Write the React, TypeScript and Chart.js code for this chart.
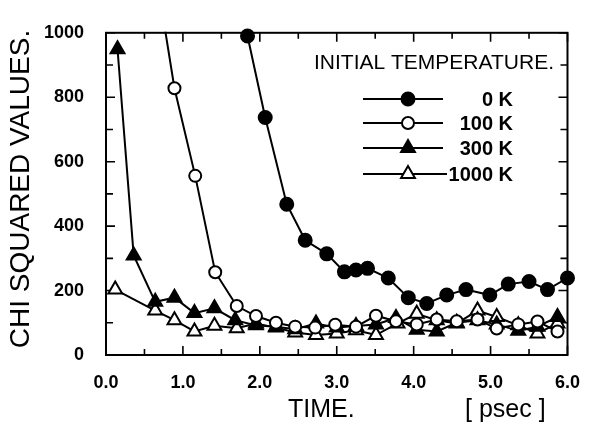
import React, { useEffect, useRef } from "react";
import { Chart, registerables } from "chart.js";

Chart.register(...registerables);

// ---- data ----
const times0K = [1.84, 2.07, 2.35, 2.59, 2.87, 3.1, 3.25, 3.4, 3.67, 3.93, 4.17, 4.43, 4.68, 4.99, 5.23, 5.5, 5.74, 6.0];
const chi0K = [990, 737, 468, 356, 314, 258, 264, 269, 239, 178, 160, 186, 203, 186, 220, 228, 203, 239];

const times100K = [0.64, 0.89, 1.16, 1.42, 1.7, 1.95, 2.21, 2.46, 2.72, 2.98, 3.25, 3.51, 3.77, 4.04, 4.3, 4.56, 4.83, 5.08, 5.36, 5.61, 5.87];
const chi100K = [1200, 828, 556, 257, 152, 121, 100, 88, 85, 94, 88, 122, 105, 95, 110, 105, 110, 82, 95, 104, 73];

const times300K = [0.15, 0.36, 0.64, 0.89, 1.15, 1.41, 1.68, 1.95, 2.21, 2.46, 2.73, 3.0, 3.25, 3.51, 3.77, 4.04, 4.3, 4.56, 4.83, 5.08, 5.36, 5.61, 5.87];
const chi300K = [949, 309, 165, 178, 130, 145, 108, 92, 88, 80, 98, 85, 90, 95, 115, 78, 73, 100, 108, 95, 75, 88, 118];

const times1000K = [0.12, 0.64, 0.89, 1.15, 1.41, 1.7, 1.95, 2.21, 2.46, 2.73, 3.0, 3.25, 3.51, 3.79, 4.04, 4.3, 4.56, 4.83, 5.08, 5.36, 5.61, 5.87];
const chi1000K = [203, 138, 108, 73, 91, 83, 98, 85, 70, 62, 67, 77, 62, 98, 128, 108, 98, 138, 118, 92, 67, 98];

const seriesLabels = ["0 K", "100 K", "300 K", "1000 K"];
const legendTitle = "INITIAL TEMPERATURE.";
const yAxisTitle = "CHI SQUARED VALUES.";
const xAxisTitle = "TIME.";
const xUnitLabel = "[ psec ]";

const X_MIN = 0;
const X_MAX = 6;
const Y_MIN = 0;
const Y_MAX = 1000;

const FONT = "'Liberation Sans', Arial, Helvetica, sans-serif";

const toPoints = (xs: number[], ys: number[]) => xs.map((x, i) => ({ x, y: ys[i] }));

type Marker = { style: "circle" | "triangle"; filled: boolean; radius: number };
const markers: Marker[] = [
  { style: "circle", filled: true, radius: 6.5 },
  { style: "circle", filled: false, radius: 6 },
  { style: "triangle", filled: true, radius: 8 },
  { style: "triangle", filled: false, radius: 8 },
];

function drawMarker(ctx: CanvasRenderingContext2D, m: Marker, x: number, y: number) {
  ctx.beginPath();
  if (m.style === "circle") {
    ctx.arc(x, y, m.radius, 0, Math.PI * 2);
  } else {
    const r = m.radius;
    let a = 0;
    ctx.moveTo(x + Math.sin(a) * r, y - Math.cos(a) * r);
    a += (Math.PI * 2) / 3;
    ctx.lineTo(x + Math.sin(a) * r, y - Math.cos(a) * r);
    a += (Math.PI * 2) / 3;
    ctx.lineTo(x + Math.sin(a) * r, y - Math.cos(a) * r);
    ctx.closePath();
  }
  ctx.fillStyle = m.filled ? "#000" : "#fff";
  ctx.fill();
  ctx.lineWidth = 2;
  ctx.strokeStyle = "#000";
  ctx.stroke();
}

const framePlugin = {
  id: "frameTicks",
  beforeDatasetsDraw(chart: any) {
    const { ctx, chartArea: a, scales } = chart;
    ctx.save();
    ctx.strokeStyle = "#000";
    ctx.lineWidth = 2;
    ctx.strokeRect(a.left, a.top, a.right - a.left, a.bottom - a.top);
    ctx.lineWidth = 1.6;
    ctx.beginPath();
    for (let i = 0; i <= (X_MAX - X_MIN) * 2; i++) {
      const v = X_MIN + i * 0.5;
      const x = scales.x.getPixelForValue(v);
      const len = i % 2 === 0 ? 9 : 6;
      ctx.moveTo(x, a.bottom);
      ctx.lineTo(x, a.bottom - len);
      ctx.moveTo(x, a.top);
      ctx.lineTo(x, a.top + len);
    }
    for (let v = Y_MIN; v <= Y_MAX; v += 100) {
      const y = scales.y.getPixelForValue(v);
      const len = v % 200 === 0 ? 9 : 7;
      ctx.moveTo(a.left, y);
      ctx.lineTo(a.left + len, y);
      ctx.moveTo(a.right, y);
      ctx.lineTo(a.right - len, y);
    }
    ctx.stroke();
    ctx.restore();
  },
};

const annotationPlugin = {
  id: "texts",
  afterDatasetsDraw(chart: any) {
    const { ctx } = chart;
    ctx.save();
    ctx.fillStyle = "#000";

    // y axis title
    ctx.save();
    ctx.translate(21, 189);
    ctx.rotate(-Math.PI / 2);
    ctx.font = `28px ${FONT}`;
    ctx.textAlign = "center";
    ctx.textBaseline = "middle";
    ctx.fillText(yAxisTitle, 0, 0);
    ctx.restore();

    // x axis title and unit
    ctx.font = `25px ${FONT}`;
    ctx.textBaseline = "middle";
    ctx.textAlign = "left";
    ctx.fillText(xAxisTitle, 288, 410);
    ctx.fillText(xUnitLabel, 465, 410);

    // legend
    ctx.font = `21px ${FONT}`;
    ctx.textAlign = "center";
    ctx.fillText(legendTitle, 434, 63);
    const rows = [99, 123, 148, 174];
    ctx.font = `bold 20px ${FONT}`;
    ctx.textAlign = "right";
    seriesLabels.forEach((label, i) => {
      const y = rows[i];
      ctx.beginPath();
      ctx.strokeStyle = "#000";
      ctx.lineWidth = 2;
      ctx.moveTo(363, y);
      ctx.lineTo(i === 3 ? 447 : 443, y);
      ctx.stroke();
      drawMarker(ctx, markers[i], 408, y);
      ctx.fillStyle = "#000";
      ctx.fillText(label, 513, y + 1);
    });
    ctx.restore();
  },
};

export default function App() {
  const ref = useRef<HTMLCanvasElement | null>(null);

  useEffect(() => {
    if (!ref.current) return;
    const seriesData = [
      toPoints(times0K, chi0K),
      toPoints(times100K, chi100K),
      toPoints(times300K, chi300K),
      toPoints(times1000K, chi1000K),
    ];
    const chart = new Chart(ref.current, {
      type: "line",
      data: {
        datasets: seriesData.map((d, i) => ({
          label: seriesLabels[i],
          data: d,
          borderColor: "#000",
          borderWidth: 2,
          pointStyle: markers[i].style,
          pointRadius: markers[i].radius,
          pointHoverRadius: markers[i].radius,
          pointBackgroundColor: markers[i].filled ? "#000" : "#fff",
          pointBorderColor: "#000",
          pointBorderWidth: 2,
          tension: 0,
          fill: false,
          clip: i === 1 ? 1 : false,
        })),
      },
      options: {
        animation: false,
        responsive: false,
        events: [],
        layout: { padding: { top: 23, right: 19, left: 0, bottom: 0 } },
        plugins: { legend: { display: false }, tooltip: { enabled: false }, title: { display: false } },
        scales: {
          x: {
            type: "linear",
            min: X_MIN,
            max: X_MAX,
            grid: { display: false, drawTicks: false },
            border: { display: false },
            ticks: {
              stepSize: 1,
              padding: 17,
              color: "#000",
              font: { family: FONT, size: 18, weight: "bold" },
              callback: (v: any) => Number(v).toFixed(1),
            },
            afterFit: (s: any) => {
              s.height = 69;
            },
          },
          y: {
            type: "linear",
            min: Y_MIN,
            max: Y_MAX,
            grid: { display: false, drawTicks: false },
            border: { display: false },
            ticks: {
              stepSize: 200,
              padding: 22,
              color: "#000",
              font: { family: FONT, size: 18, weight: "bold" },
              callback: (v: any) => String(v),
            },
            afterFit: (s: any) => {
              s.width = 106;
            },
          },
        },
      } as any,
      plugins: [framePlugin, annotationPlugin],
    });
    return () => chart.destroy();
  }, []);

  return (
    <div style={{ position: "fixed", left: 0, top: 0, width: 597, height: 424, background: "#fff" }}>
      <canvas ref={ref} width={597} height={424} style={{ display: "block" }} />
    </div>
  );
}
